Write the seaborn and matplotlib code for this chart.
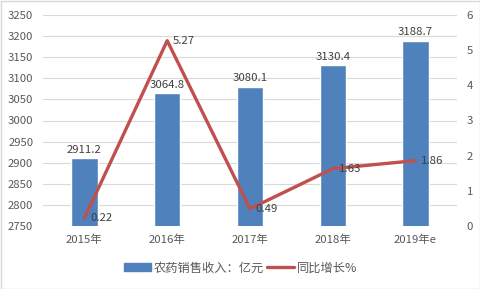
import matplotlib
matplotlib.use("Agg")
import matplotlib.pyplot as plt
import seaborn as sns
import pandas as pd
from matplotlib.patches import Rectangle
from matplotlib.lines import Line2D

years = ["2015年", "2016年", "2017年", "2018年", "2019年e"]
revenue = [2911.2, 3064.8, 3080.1, 3130.4, 3188.7]
growth = [0.22, 5.27, 0.49, 1.63, 1.86]
bar_labels = ["2911.2", "3064.8", "3080.1", "3130.4", "3188.7"]
growth_labels = ["0.22", "5.27", "0.49", "1.63", "1.86"]

sns.set_theme(style="white")
plt.rcParams['font.family'] = ['Noto Sans CJK SC', 'DejaVu Sans']

df = pd.DataFrame({"year": years, "revenue": revenue, "growth": growth})

fig = plt.figure(figsize=(4.81, 2.89), dpi=100)
ax = fig.add_axes([43/481, 1-226/289, 414/481, 211/289])
txt = "#595959"
bar_color = "#4F81BD"
line_color = "#C0504D"
fs = 8.2

sns.barplot(data=df, x="year", y="revenue", color=bar_color, width=0.32,
            saturation=1, ax=ax, zorder=2)
ax.set_ylim(2750, 3250)
ax.set_yticks(range(2750, 3251, 50))
ax.grid(axis="y", color="#D9D9D9", linewidth=0.8, zorder=0)
ax.set_xlabel("")
ax.set_ylabel("")
for s in ax.spines.values():
    s.set_visible(False)
ax.tick_params(axis="both", length=0, labelsize=fs, colors=txt)
ax.tick_params(axis="y", pad=7)
ax.tick_params(axis="x", pad=6)
for i, (v, l) in enumerate(zip(revenue, bar_labels)):
    ax.text(i, v + 8, l, ha="center", va="bottom", fontsize=fs, color="#404040")

ax2 = ax.twinx()
sns.lineplot(x=list(range(len(years))), y=growth, color=line_color, linewidth=2.4, ax=ax2, zorder=3)
ax2.set_ylim(0, 6)
ax2.set_yticks(range(0, 7))
for s in ax2.spines.values():
    s.set_visible(False)
ax2.tick_params(axis="y", length=0, labelsize=fs, colors=txt, pad=7)
ax2.grid(False)
for i, (v, l) in enumerate(zip(growth, growth_labels)):
    ax2.text(i + 0.07, v, l, ha="left", va="center", fontsize=fs, color="#404040")
ax.set_xlim(-0.5, 4.5)

handles = [Rectangle((0, 0), 1, 1, color=bar_color),
           Line2D([0], [0], color=line_color, linewidth=2.4)]
fig.legend(handles, ["农药销售收入：亿元", "同比增长%"], loc="center",
           bbox_to_anchor=(0.5, 1-268/289), ncol=2, frameon=False,
           fontsize=8.8, labelcolor=txt, handlelength=2.2, handleheight=0.6,
           columnspacing=0.3, handletextpad=0.2)

fig.patches.append(Rectangle((0.5/481, 0.5/289), 479.5/481, 287.5/289, transform=fig.transFigure,
                             fill=False, edgecolor="#D9D9D9", linewidth=1))
fig.savefig("out.png", dpi=100)
